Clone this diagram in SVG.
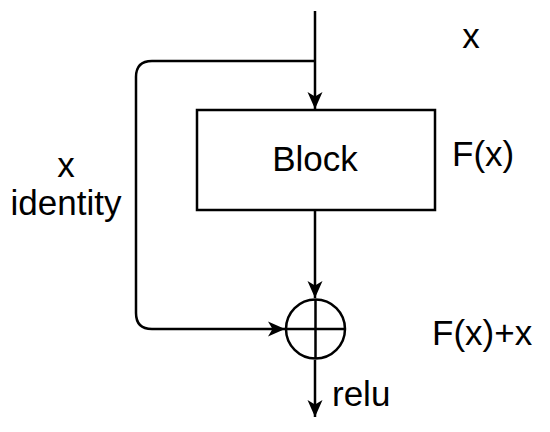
<svg xmlns="http://www.w3.org/2000/svg" width="550" height="432" viewBox="0 0 550 432">
<style>
.ln{fill:none;stroke:#000;stroke-width:2.5}
.t{font-family:"Liberation Sans",Arial,sans-serif;font-size:35px;fill:#000}
</style>
<defs>
<marker id="ah" markerWidth="18" markerHeight="18" viewBox="0 0 18 18" refX="17" refY="9" orient="auto" markerUnits="userSpaceOnUse">
<path d="M0,1.5 L17,9 L0,16.5 L4.5,9 Z" fill="#000"/>
</marker>
</defs>
<rect width="550" height="432" fill="#fff"/>
<g id="connectors">
<path class="ln" d="M315,11 V109" marker-end="url(#ah)"/>
<path class="ln" d="M315,61 H152 Q136,61 136,77 V313 Q136,329 152,329 H285" marker-end="url(#ah)"/>
<path class="ln" d="M315,210 V298" marker-end="url(#ah)"/>
<path class="ln" d="M315,360 V417" marker-end="url(#ah)"/>
</g>
<g id="block">
<rect class="ln" x="197" y="110" width="238" height="100"/>
<text class="t" x="315" y="171" text-anchor="middle">Block</text>
</g>
<g id="sum">
<circle class="ln" cx="315.5" cy="329" r="29.5"/>
<path class="ln" d="M286,329 H345 M315.5,299.5 V358.5"/>
</g>
<g id="labels">
<text class="t" x="471" y="48" text-anchor="middle">x</text>
<text class="t" x="452" y="166">F(x)</text>
<text class="t" x="432" y="345">F(x)+x</text>
<text class="t" x="66" y="177" text-anchor="middle">x</text>
<text class="t" x="66" y="215" text-anchor="middle">identity</text>
<text class="t" x="332" y="406">relu</text>
</g>
</svg>
